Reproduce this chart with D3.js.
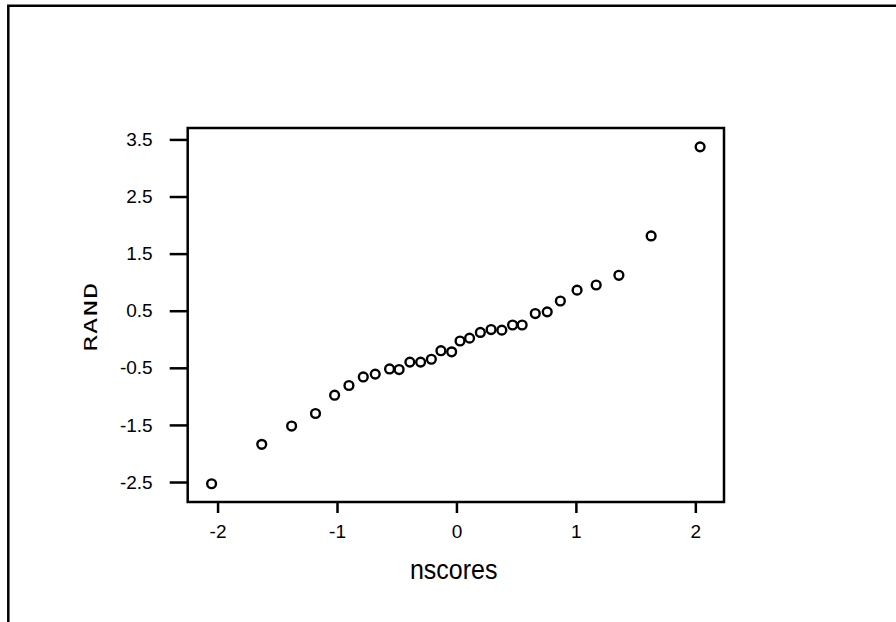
<!DOCTYPE html>
<html>
<head>
<meta charset="utf-8">
<script src="https://cdn.jsdelivr.net/npm/d3@7"></script>
<style>
  html, body { margin: 0; padding: 0; background: #fff; }
  svg { display: block; }
</style>
</head>
<body>
<svg id="chart" width="896" height="622"></svg>
<script>
// ---- data ----
const nscores = [-2.05, -1.63, -1.38, -1.18, -1.02, -0.90, -0.78, -0.68, -0.56, -0.48,
                 -0.39, -0.30, -0.21, -0.13, -0.04, 0.03, 0.11, 0.20, 0.29, 0.38,
                 0.47, 0.55, 0.66, 0.76, 0.87, 1.01, 1.17, 1.36, 1.63, 2.04];
const rand = [-2.53, -1.84, -1.52, -1.30, -0.98, -0.81, -0.66, -0.61, -0.52, -0.53,
              -0.40, -0.40, -0.35, -0.20, -0.22, -0.03, 0.02, 0.12, 0.17, 0.16,
              0.25, 0.25, 0.45, 0.48, 0.67, 0.86, 0.95, 1.12, 1.81, 3.37];
const xTickValues = [-2, -1, 0, 1, 2];
const xTickLabels = ["-2", "-1", "0", "1", "2"];
const yTickValues = [-2.5, -1.5, -0.5, 0.5, 1.5, 2.5, 3.5];
const yTickLabels = ["-2.5", "-1.5", "-0.5", "0.5", "1.5", "2.5", "3.5"];
const xTitle = "nscores";
const yTitle = "RAND";

// ---- layout ----
const svg = d3.select("#chart");
const pLeft = 187.7, pRight = 724, pTop = 128, pBottom = 502;

const x = d3.scaleLinear().domain([-2.25, 2.24]).range([pLeft, pRight]);
const y = d3.scaleLinear().domain([-2.85, 3.70]).range([pBottom, pTop]);

svg.append("rect").attr("width", 896).attr("height", 622).attr("fill", "#fff");

// outer frame (top and left edges)
svg.append("path")
  .attr("d", "M8.3,622 L8.3,5.8 L896,5.8")
  .attr("fill", "none").attr("stroke", "#000").attr("stroke-width", 2.5);

// axes
const xAxis = d3.axisBottom(x)
  .tickValues(xTickValues)
  .tickFormat((d, i) => xTickLabels[i])
  .tickSize(11).tickPadding(12);
const gx = svg.append("g").attr("transform", `translate(0,${pBottom})`).call(xAxis);

const yAxis = d3.axisLeft(y)
  .tickValues(yTickValues)
  .tickFormat((d, i) => yTickLabels[i])
  .tickSize(18).tickPadding(17);
const gy = svg.append("g").attr("transform", `translate(${pLeft},0)`).call(yAxis);

[gx, gy].forEach(g => {
  g.select(".domain").remove();
  g.selectAll(".tick line").attr("stroke", "#000").attr("stroke-width", 2.5);
  g.selectAll(".tick text")
    .attr("fill", "#000")
    .style("font-family", "'Liberation Sans', Arial, Helvetica, sans-serif")
    .style("font-size", "19px");
});

// plot frame
svg.append("rect")
  .attr("x", pLeft).attr("y", pTop)
  .attr("width", pRight - pLeft).attr("height", pBottom - pTop)
  .attr("fill", "none").attr("stroke", "#000").attr("stroke-width", 2.5);

// points
svg.append("g").selectAll("circle")
  .data(nscores.map((v, i) => [v, rand[i]]))
  .join("circle")
  .attr("cx", d => x(d[0]))
  .attr("cy", d => y(d[1]))
  .attr("r", 4.4)
  .attr("fill", "none")
  .attr("stroke", "#000")
  .attr("stroke-width", 2.4);

// axis titles
svg.append("text")
  .attr("x", 0).attr("y", 0)
  .attr("text-anchor", "middle")
  .attr("transform", "translate(453.7,579) scale(1,1.1)")
  .style("font-family", "'Liberation Sans', Arial, Helvetica, sans-serif")
  .style("font-size", "25px")
  .text(xTitle);

svg.append("text")
  .attr("transform", "translate(97.3,317) rotate(-90) scale(1.5,1)")
  .attr("text-anchor", "middle")
  .attr("textLength", 46)
  .attr("lengthAdjust", "spacing")
  .style("font-family", "'DejaVu Sans Mono', monospace")
  .style("font-size", "18px")
  .text(yTitle);
</script>
</body>
</html>
